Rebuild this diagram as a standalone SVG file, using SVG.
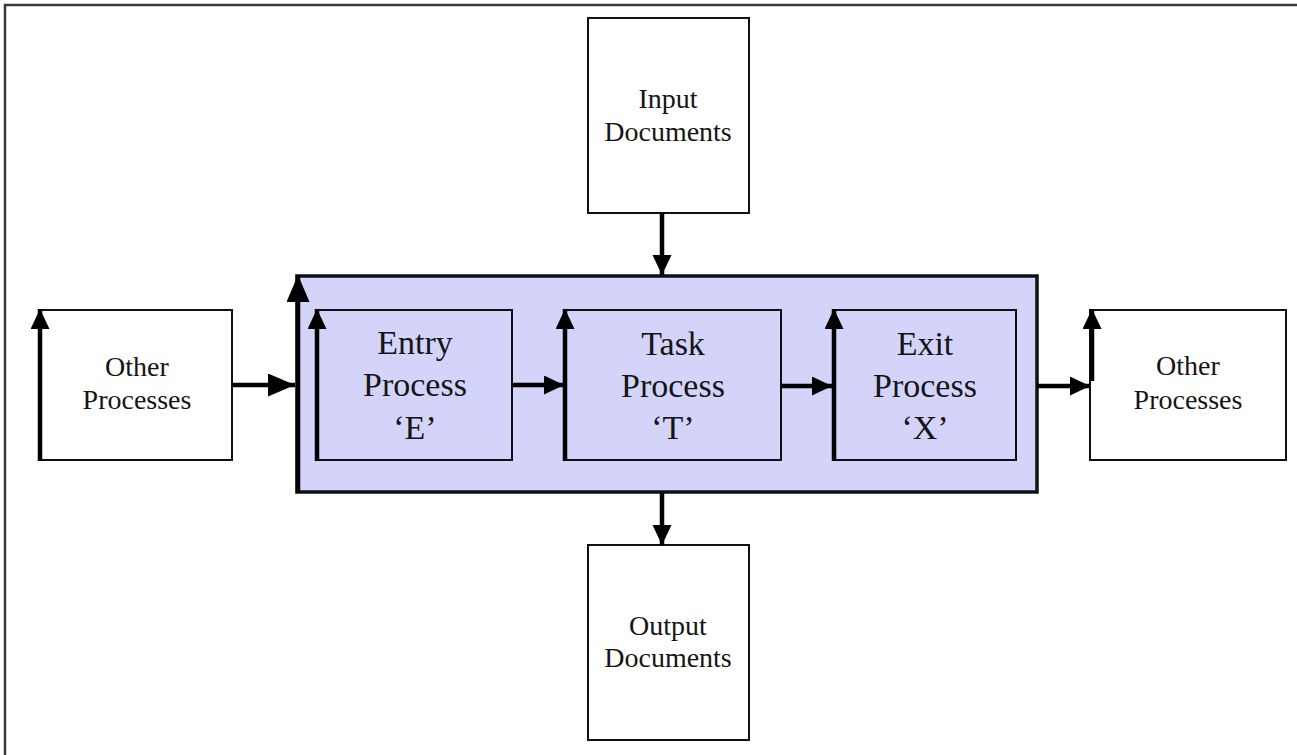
<svg xmlns="http://www.w3.org/2000/svg" width="1297" height="755" viewBox="0 0 1297 755">
  <style>
    .box { fill: #ffffff; stroke: #111111; stroke-width: 2; }
    .proc { fill: #d4d4fb; stroke: #111111; stroke-width: 2; }
    .main { fill: #d4d4fb; stroke: #111111; stroke-width: 3.5; }
    .wire { fill: none; stroke: #000000; stroke-width: 4.5; }
    .lbl { font-family: "Liberation Serif", "Times New Roman", serif; fill: #151515; text-anchor: middle; }
    .sm { font-size: 28px; }
    .lg { font-size: 34px; }
  </style>
  <defs>
    <marker id="head" markerUnits="userSpaceOnUse" markerWidth="21" markerHeight="21" viewBox="0 0 21 21" refX="20" refY="9.5" orient="auto">
      <path d="M0,0 L20,9.5 L0,19 z" fill="#000000"/>
    </marker>
    <marker id="headBig" markerUnits="userSpaceOnUse" markerWidth="28" markerHeight="26" viewBox="0 0 28 26" refX="27" refY="11.5" orient="auto">
      <path d="M0,0 L27,11.5 L0,23 z" fill="#000000"/>
    </marker>
  </defs>

  <!-- page frame -->
  <path d="M5,755 L5,5 L1297,5" fill="none" stroke="#3a3a3a" stroke-width="2.5"/>

  <g id="main-process">
    <rect class="main" x="297" y="276" width="740" height="216"/>
  </g>

  <g id="input-documents">
    <rect class="box" x="588" y="18" width="161" height="195"/>
    <text class="lbl sm" x="668" y="108">Input</text>
    <text class="lbl sm" x="668" y="141">Documents</text>
  </g>

  <g id="output-documents">
    <rect class="box" x="588" y="545" width="161" height="195"/>
    <text class="lbl sm" x="668" y="635">Output</text>
    <text class="lbl sm" x="668" y="667">Documents</text>
  </g>

  <g id="other-processes-left">
    <rect class="box" x="40" y="310" width="192" height="150"/>
    <text class="lbl sm" x="137" y="376">Other</text>
    <text class="lbl sm" x="137" y="409">Processes</text>
  </g>

  <g id="other-processes-right">
    <rect class="box" x="1090" y="310" width="196" height="150"/>
    <text class="lbl sm" x="1188" y="375">Other</text>
    <text class="lbl sm" x="1188" y="409">Processes</text>
  </g>

  <g id="entry-process">
    <rect class="proc" x="317" y="310" width="195" height="150"/>
    <text class="lbl lg" x="415" y="354">Entry</text>
    <text class="lbl lg" x="415" y="396">Process</text>
    <text class="lbl lg" x="415" y="439">‘E’</text>
  </g>

  <g id="task-process">
    <rect class="proc" x="565" y="310" width="216" height="150"/>
    <text class="lbl lg" x="673" y="355">Task</text>
    <text class="lbl lg" x="673" y="397">Process</text>
    <text class="lbl lg" x="673" y="439">‘T’</text>
  </g>

  <g id="exit-process">
    <rect class="proc" x="833" y="310" width="183" height="150"/>
    <text class="lbl lg" x="925" y="355">Exit</text>
    <text class="lbl lg" x="925" y="397">Process</text>
    <text class="lbl lg" x="925" y="439">‘X’</text>
  </g>

  <g id="connectors">
    <!-- upward flow arrows along the left edges -->
    <line class="wire" x1="40" y1="461" x2="40" y2="309" stroke-width="4" marker-end="url(#head)"/>
    <line class="wire" x1="298" y1="493" x2="298" y2="275" stroke-width="6.5" marker-end="url(#headBig)"/>
    <line class="wire" x1="317" y1="461" x2="317" y2="309" stroke-width="3.5" marker-end="url(#head)"/>
    <line class="wire" x1="565" y1="461" x2="565" y2="309" stroke-width="4" marker-end="url(#head)"/>
    <line class="wire" x1="834" y1="461" x2="834" y2="309" stroke-width="5" marker-end="url(#head)"/>
    <line class="wire" x1="1092" y1="381" x2="1092" y2="309" stroke-width="4" marker-end="url(#head)"/>
    <!-- horizontal flow -->
    <line class="wire" x1="232" y1="385" x2="295" y2="385" stroke-width="5" marker-end="url(#headBig)"/>
    <line class="wire" x1="512" y1="385" x2="564" y2="385" marker-end="url(#head)"/>
    <line class="wire" x1="781" y1="386" x2="832" y2="386" marker-end="url(#head)"/>
    <line class="wire" x1="1037" y1="386" x2="1090" y2="386" marker-end="url(#head)"/>
    <!-- documents in and out -->
    <line class="wire" x1="662" y1="213" x2="662" y2="275" marker-end="url(#head)"/>
    <line class="wire" x1="662" y1="493" x2="662" y2="545" marker-end="url(#head)"/>
  </g>
</svg>
